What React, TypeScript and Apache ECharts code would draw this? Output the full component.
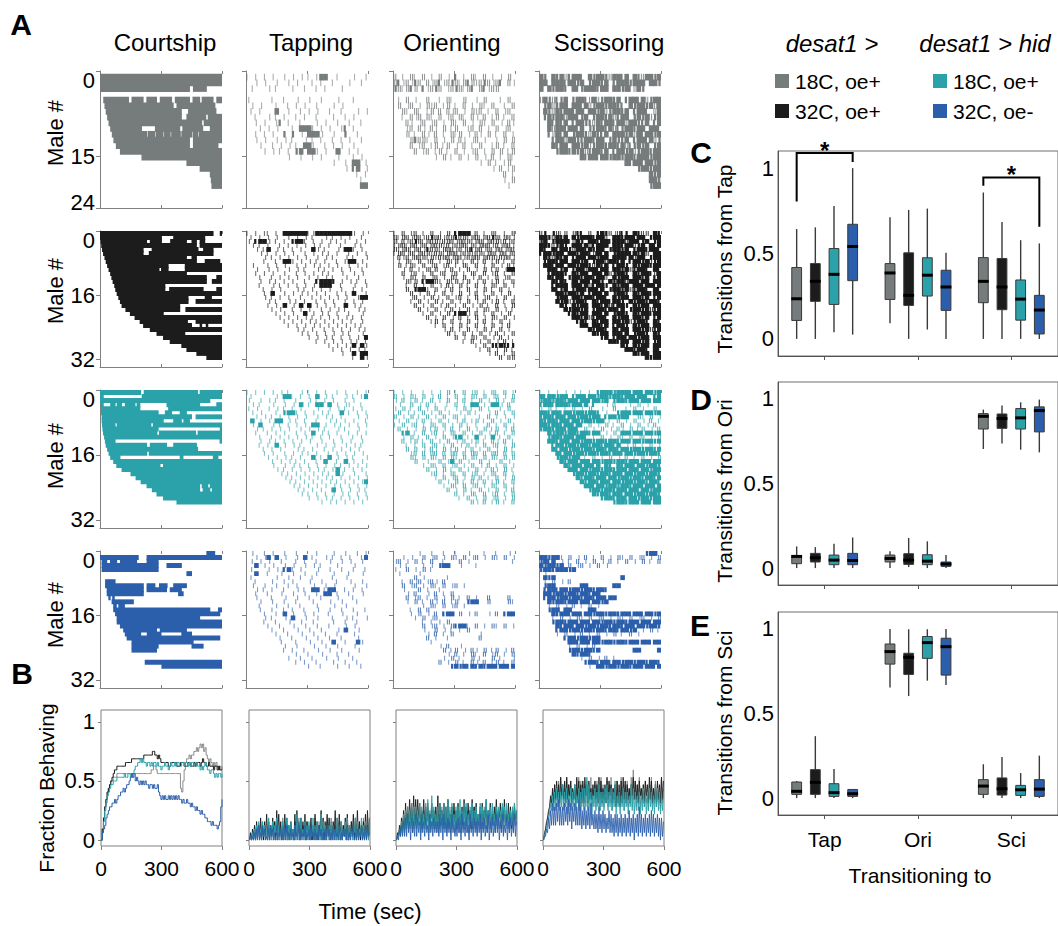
import React, { useEffect, useRef } from "react";
import * as echarts from "echarts";

// ---------------- categories & labels ----------------
const BEHAVIORS = ["Courtship", "Tapping", "Orienting", "Scissoring"];
const GENOTYPE_GROUPS = ["desat1 >", "desat1 > hid"];
const GENOTYPE_LABELS = ["18C, oe+", "32C, oe+", "18C, oe+", "32C, oe-"];
const COLORS = ["#767b7c", "#1c1c1c", "#2ba2aa", "#2b5fab"];
const MALE_TICKS = [[0, 15, 24], [0, 16, 32], [0, 16, 32], [0, 16, 32]];
const MALE_MAX = [24, 34, 34, 34];
const ROW_SHIFT = [0.5, 0, 0, 0];
const FRACTION_TICKS = [0, 0.5, 1];
const TRANSITION_TICKS = [0, 0.5, 1];
const TARGETS = ["Tap", "Ori", "Sci"];
const SOURCES = ["Transitions from Tap", "Transitions from Ori", "Transitions from Sci"];

// ---------------- courtship rasters: [start,end,start,end,...] seconds per male ----------------
const COURT_GRAY = [
  [0, 600], [0, 600], [0, 440, 457, 523], [],
  [16, 140, 155, 212, 228, 278, 294, 352, 368, 440, 455, 490, 500, 556, 572, 600],
  [22, 360, 376, 565], [28, 400, 433, 570], [35, 400, 425, 520, 530, 600], [42, 500, 510, 600],
  [50, 204, 270, 392, 405, 505, 540, 600],
  [58, 230, 235, 270, 275, 310, 315, 345, 350, 395, 400, 450, 455, 480, 485, 600],
  [66, 440, 457, 600], [78, 440, 457, 580], [98, 600], [204, 600], [425, 600], [490, 600],
  [540, 600], [545, 600], [548, 600],
];
const COURT_BLACK = [
  [0, 556, 589, 600], [0, 302, 360, 515], [3, 229, 245, 302, 345, 425, 450, 474, 490, 515],
  [6, 474, 490, 600], [10, 212, 254, 482, 507, 556], [15, 212, 240, 556], [22, 425, 450, 474],
  [28, 474, 515, 589], [35, 335, 417, 600], [42, 290, 300, 335, 417, 600], [50, 425],
  [56, 523, 572, 600], [62, 523, 550, 600], [70, 319], [75, 319, 340, 507, 572, 600], [82, 600],
  [90, 433, 515, 548], [98, 433, 470, 600], [106, 392], [125, 392, 420, 600], [147, 311],
  [170, 600], [195, 430, 470, 600], [212, 450, 490, 500, 520, 530], [245, 600], [278, 417],
  [310, 600], [343, 600], [400, 600], [425, 600], [474, 600], [523, 600],
];
const COURT_TEAL = [
  [0, 200, 215, 480, 490, 600], [0, 16, 205, 600], [0, 540],
  [5, 16, 50, 74, 82, 106, 122, 172, 180, 196, 327, 490, 572, 600], [5, 196, 335, 600],
  [5, 286, 319, 352, 392, 425], [8, 450, 470, 600], [8, 311, 360, 400, 410, 440],
  [10, 74, 82, 250, 260, 600], [12, 286, 589, 600], [15, 280, 290, 470, 480, 600], [20, 600],
  [24, 74, 588, 600], [28, 229, 245, 327, 360, 474], [35, 480], [42, 230, 240, 600],
  [50, 98, 392, 408, 555, 580], [65, 600], [80, 295, 310, 600], [106, 600], [150, 600],
  [175, 600], [200, 600], [229, 490, 500, 530, 540, 600], [255, 490, 505, 540, 550, 600],
  [278, 600], [310, 600], [376, 600],
];
const COURT_BLUE = [
  [523, 564], [0, 188, 229, 600], [8, 33, 49, 82, 98, 180, 229, 286], [8, 286, 327, 400], [8, 286],
  [425, 450], [], [25, 74], [25, 213, 229, 270, 290, 330, 360, 425], [33, 213, 229, 327, 343, 400],
  [33, 213, 384, 409], [41, 50, 60, 70], [57, 164], [65, 80, 90, 120], [65, 540, 580, 600],
  [74, 589], [82, 490], [82, 600], [98, 600], [114, 278, 294, 425], [122, 200, 230, 300, 400, 450],
  [131, 589], [155, 458], [155, 286, 450, 507], [155, 278], [], [], [220, 600], [302, 600],
];

// ---------------- behaviour rasters: 20-s bins, '.'=none 1=thin tick 2=two ticks 3=half bin 4=full ----------------
const GRAY_TAP = [
  "1.1.1|.1..1|.1.1.|1.144|..1..|.1..1", "..1.1|..1..|1.1..|.1.1.|.1...|1..1.", ".1...|1.1..|.1..1|..1.1|...1.|.....",
  ".....|.....|.....|.....|.....|.....", "1....|.1..1|..1..|1..1.|..1..|.1...", ".1.1.|..1..|1.1.1|..1..|.1.1.|.....",
  ".1.1.|..4..|1..1.|1.1..|1..1.|..1.1", "..1..|1.1.1|..1.1|..1..|.1..1|.1...", "..1.1|..13.|1..1.|..1.1|..1..|1..1.",
  "...1.|1.1..|.1.44|41.1.|1..13|.1...", "..1.1|.1..3|.3.1.|4441.|.1..3|..1..", "..1.1|..1.1|.1..1|.1.1.|.1.1.|1..1.",
  "...1.|.1.1.|1.1.4|41..1|.1.1.|.1...", "....1|.1.1.|1.34.|441.1|..41.|1.1..", ".....|.....|1..1.|.1.1.|..1..|.1.1.",
  ".....|.....|.....|.....|.1..1|.44.1", ".....|.....|.....|.....|....1|.34.1", ".....|.....|.....|.....|.....|..1.1",
  ".....|.....|.....|.....|.....|...1.", ".....|.....|.....|.....|.....|...44",
];
const GRAY_ORI = [
  "2.1.2|1.2.1|.2.1.|3.1.2|1.2.1|.1.2.", "23121|32.21|23123|21232|12321|23.21", "32123|2.312|32.12|32123|.2312|2....",
  ".....|.....|.....|.....|.....|.....", ".1.2.|1..2.|.1.21|..2..|1.2..|.1.2.", ".2.12|.1.21|2.12.|1.2.1|.21.2|..1.2",
  "..21.|21.12|.2.21|2.1.2|12.1.|2.12.", "..1.2|12.21|.2.12|.21.2|1.2.1|2.1.2", "...21|.12.1|2.1.2|1.2.1|.21.2|.1.21",
  "...12|.21.2|1.2.1|2..12|.2.1.|2.12.", "...2.|1.21.|2.1.2|12.1.|21.2.|1.2.1", "....2|3221.|2.1.2|.21.1|2.1..|1.2.2",
  "....2|.12.1|2.12.|1.2.1|.2..1|2.1.2", ".....|2.12.|12.1.|2.1.1|2.1.2|.2.12", ".....|.....|1.2.1|.2.1.|2.1.2|.1.21",
  ".....|.....|.....|.....|.1.2.|1.12.", ".....|.....|.....|.....|....1|.2.12", ".....|.....|.....|.....|.....|..2.1",
  ".....|.....|.....|.....|.....|..1.2", ".....|.....|.....|.....|.....|...1.",
];
const GRAY_SCI = [
  "43.43|42344|3.434|43244|34.43|24434", "44.44|43443|4.344|34.34|44344|4.443", "4.434|43.43|34443|44.44|34324|3....",
  ".....|.....|.....|.....|.....|.....", "24323|34.34|43242|34434|.3443|42344", ".3423|44.44|34234|43443|3.434|43424",
  ".4324|34434|4.443|42344|34.34|43.24", ".3434|42443|34.34|43423|44.34|34234", "..434|34.34|43324|34434|42443|34.34",
  "..424|43443|4.334|43423|34434|4.443", "..324|34.34|43243|34.44|43424|34434", "...34|42443|34434|4.343|34.34|43423",
  "...43|44.44|34234|43443|42334|34.34", "....3|44343|42344|34.34|43423|44344", ".....|.....|43443|44344|34434|44344",
  ".....|.....|.....|.....|.4344|34434", ".....|.....|.....|.....|....3|44344", ".....|.....|.....|.....|.....|..434",
  ".....|.....|.....|.....|.....|..443", ".....|.....|.....|.....|.....|..344",
];
const BLACK_TAP = [
  "1.1.1|1.1.4|44444|11444|44444|41.1.", ".1.1.|1.1..|1.1.1|.1..1|.1.1.|1..1.", "1.344|1.1.1|.3441|.1.1.|1.1.1|..1.1",
  ".1.1.|1..1.|1.1.1|.1.1.|1..1.|.1.1.", "..1.1|4.1.1|.1.1.|.41.1|..1.4|41.1.", "...1.|1.1.1|.1..1|.1.1.|1.1..|1.1.1",
  "....1|.1.1.|1.1.1|..1.1|.1..1|.1..1", "....1|..1.4|41.1.|1.1.1|..1.1|44.1.", ".1...|1.1.1|..1.1|.1.1.|1.1..|1.1.1",
  "..1..|1.1..|1.1.1|..1.1|.1.1.|1..1.", "..1.1|.1..1|..1.1|.1.1.|1..1.|.1.1.", "...1.|.1.1.|1.1..|1.1.1|.1..1|..1..",
  "...1.|1.1.1|.1..1|..344|43.1.|1.1.1", "...1.|.1.1.|1.1.1|.1.44|4..1.|.1..1", "....1|.1.1.|..1.1|.1.1.|1..1.|.1.1.",
  "....1|.4..1|.1.1.|1.1.1|..1.1|.4..1", "....1|.1.1.|1..1.|.1.1.|1.1.1|..144", ".....|1.1..|1.1.1|..1.1|.1..1|.1.1.",
  ".....|1.1.4|.1.4.|4.1.1|.1..4|.1.1.", ".....|.1.1.|.1.1.|1..1.|1.1.1|..1.1", ".....|..1.1|.1..4|.1.1.|1.1..|1..1.",
  ".....|...1.|1.1.1|.1.1.|1.1.1|.1.1.", ".....|....1|.1.1.|1.1.1|.1.1.|1..1.", ".....|.....|1.1.1|.1.1.|1.1.1|.1.1.",
  ".....|.....|..1.1|.1..1|.1.1.|1.1.1", ".....|.....|...1.|1.1.1|.1.1.|1..1.", ".....|.....|.....|1.1.1|.1.1.|1.1.4",
  ".....|.....|.....|..1.1|.1.1.|1.1.1", ".....|.....|.....|.....|1.1.1|.4.41", ".....|.....|.....|.....|.1.1.|1.1.1",
  ".....|.....|.....|.....|...1.|.4.44", ".....|.....|.....|.....|.....|.1.41",
];
const BLACK_ORI = [
  "1.2.1|2.1.2|.1.2.|3444.|2.1.2|1.1.2", "21221|22123|22122|32212|21223|21221", "2.212|32122|21222|12221|22122|21212",
  "12212|21212|22121|22212|12221|21221", "21221|22132|21222|12123|22121|22122", "12212|12221|22122|21221|22122|12212",
  ".2121|22212|12221|22122|21222|12221", ".1.21|.2.12|.1.21|2.1.2|1.2.1|2.1.2", ".2.12|1.2.1|2.12.|1.21.|2.1.2|.1.21",
  "..1.2|.1.21|2.1.2|.1.2.|1.2.1|2.144", "..2.1|2.1.2|.12.1|2.1.2|1.2.1|2.1.2", "..1.2|1.2.1|2.1.2|1.2.1|.2.1.|2.12.",
  "...21|2.344|21.21|2.12.|1.2.1|2.1.2", "...1.|2.1.2|.1.21|.2.1.|2.1.2|1.2.1", "...2.|3441.|2.1.2|.1.2.|1.2.1|.2.1.",
  "....2|.1.2.|1.2.1|.2.1.|2.1.2|.1.2.", "....1|2.1.2|.1.2.|12.1.|2.12.|1.2.1", "....1|.2.1.|2.1.2|.1.2.|1.2.1|2.1.2",
  ".....|2.1.2|.1.2.|1.2.1|.2.1.|2.1.2", ".....|.2.1.|2.1.2|.1.2.|1.21.|2.1.1", ".....|..1.2|.1.2.|3441.|2.1.2|.1.2.",
  ".....|...2.|1.2.1|.2.1.|2.1.2|1.2.1", ".....|....1|2.1.2|.1.2.|1.2.1|.2.1.", ".....|.....|1.2.1|.2.1.|2.1.2|.1.2.",
  ".....|.....|..1.2|.1.2.|1.2.1|.2.1.", ".....|.....|...2.|1.2.1|.2.1.|2.1.2", ".....|.....|.....|2.1.2|1.2.1|.2.1.",
  ".....|.....|.....|..1.2|.1.2.|1.2.1", ".....|.....|.....|.....|1.2.3|34333", ".....|.....|.....|.....|.1.2.|1.2.1",
  ".....|.....|.....|.....|...1.|2.1.2", ".....|.....|.....|.....|.....|.2.22",
];
const BLACK_SCI = [
  "23.32|12.23|3.2.3|43212|33.43|22.43", "44324|34.43|44434|42.44|34434|4.344", "34.34|44324|3.443|44344|42443|34.34",
  "44323|43.44|34234|44.44|34423|4.434", "43.43|44324|43434|4.344|34.34|43443", "34434|4.443|44324|34.34|44343|42.44",
  ".4324|34.34|43443|44.44|43424|4.344", ".3443|44.44|34.34|42443|4.344|34234", ".4434|4.443|44324|34.34|43.43|44344",
  "..443|34.34|42443|44.44|34234|43.43", "..344|43.43|44.44|34234|43.43|44324", "..434|4.344|34434|42.43|44.44|34.34",
  "...43|43.43|44344|3.434|42443|44.44", "...34|44.44|34234|43.43|44.44|34434", "...43|34.34|43443|4.344|34234|43.43",
  "....4|43443|4.344|34.34|43.43|44344", "....3|44.44|34434|43.43|44.44|34.34", "....4|34234|43.43|44344|3.434|43443",
  ".....|43.43|44.44|34234|43.43|44.44", ".....|.4344|34.34|43443|4.344|34234", ".....|..343|44.44|34.34|43.43|44344",
  ".....|...44|34234|43.43|44.44|34.34", ".....|....3|43.43|44.44|34234|43.43", ".....|.....|44.44|34.34|43.43|44.44",
  ".....|.....|..434|43.43|44.44|34234", ".....|.....|...43|44.44|34.34|43.43", ".....|.....|.....|34.34|43443|44.44",
  ".....|.....|.....|..443|44.44|34.34", ".....|.....|.....|.....|43.43|44.44", ".....|.....|.....|.....|.4434|43.43",
  ".....|.....|.....|.....|...43|44.44", ".....|.....|.....|.....|.....|.4344",
];
const TEAL_TAP = [
  "1.1.1|.1.1.|1..1.|1.1.1|..1.1|..1.1", ".1...|..1.4|41.1.|1.4.1|.1..1|.1.14", "1..1.|1.1.1|..1..|1.1.1|.1..1|.1...",
  ".1.1.|.1..1|.1.4.|1.44.|4.1.1|1..1.", "1.1..|1.1.1|.1.1.|..1..|1.1.1|.1.1.", ".1.1.|..1.3|441.1|.1.1.|1..4.|1.1.1",
  "..1.1|.1.1.|1.1.1|..1.1|.1.1.|..1.1", ".4.1.|1.44.|1.1.1|..1..|1.1.1|.1..1", ".1.4.|.1.1.|1.1.1|.44.1|.1.1.|1.1.1",
  "..1.1|.1.1.|1..1.|1.1.1|..1.1|..1..", "..1..|1.1.1|..1.1|.4.1.|1.1..|1.1.1", "...1.|.1.1.|1.1.1|.1.1.|1..1.|.1.1.",
  "...1.|1.1.1|.1.1.|1..1.|.1.1.|1..1.", "...1.|1.4.1|.1.1.|..1.1|.1..1|.1.1.", "....1|.1.1.|..1.1|.1..1|.1.1.|1.1..",
  "....1|.1..1|.1.1.|1.1..|1.1.1|.1.1.", ".....|1.1.1|.1.1.|.4.1.|4.1.1|.1..1", ".....|.1.1.|1.1.1|..1.4|..1.4|.1.1.",
  ".....|.1..1|.1.1.|1.1.1|.1.1.|1.1.1", ".....|..1.1|.1.1.|1.1.1|.14.1|.1.1.", ".....|...1.|1.1.1|.1.1.|1.41.|.1..1",
  ".....|....1|.1.1.|1.1.1|.1.1.|1.1.1", ".....|.....|1.1.1|.1.1.|1.1.1|.1.14", ".....|.....|.1.1.|1.1.1|.1.1.|1.1.1",
  ".....|.....|..1.1|.1.1.|.4.1.|1.1.1", ".....|.....|...1.|1.1.1|.1.1.|1.1.1", ".....|.....|.....|1.1.1|.1.1.|1.1.1",
  ".....|.....|.....|...1.|1.1.1|.1.1.",
];
const TEAL_ORI = [
  "1.1.1|..1.1|.1.2.|1.2.1|2.1.2|1.2.1", "2.1.2|1.2.1|.2.1.|2.1.2|1.2.1|2.1.2", "1.2.1|2.1.2|.1.2.|1.2.1|.2.1.|2.1.2",
  ".1..2|.1.2.|1..1.|2.1.4|4.1.4|41.2.", "1.2.1|.2.1.|2.1..|1.2.1|.2.1.|.1.2.", ".2.1.|1.2.1|.2.1.|.1.2.|1..1.|2.1.2",
  "2.1.2|.1.2.|1.2.1|2.1..|.1.2.|1.1.1", ".1.2.|1.2.1|.2.1.|1.2.1|2.1.2|.1.2.", "1.2.1|2.1.2|1.2.1|.2.1.|1..2.|1.2.1",
  ".2.1.|1.2.1|2.1.2|.1.2.|1.2.1|2.1.2", "..34.|1.2.1|2.1.2|1.2.1|.2.1.|2.1.2", "..1.2|.1.2.|1.2.1|34.1.|4.1.4|.1.2.",
  "..2.1|2.1.2|.1.2.|1.2.1|2.1.2|1.2.1", "...1.|1.2.1|2.1.2|.1.2.|1.2.1|2.1.2", "...2.|2.1.2|1.2.1|2.1.2|.1.2.|1.2.1",
  "....1|2.2.2|2.2.2|2.2.2|2.2.2|2.2.2", "....2|1.2.2|1.2.2|1.2.2|1.2.2|1.2.2", ".....|2..1.|.2.14|.2.1.|.2.1.|.2.1.",
  ".....|..1.2|1.2.1|2.1.2|.1.2.|1.2.1", ".....|...2.|1.2.1|.2.1.|2.1.2|1.2.1", ".....|....1|2.1.2|1.2.1|2.1.2|1.2.1",
  ".....|.....|1.2.1|2.1.2|.2.1.|2.1.2", ".....|.....|.2.1.|2.1.2|1.2.1|2.1.2", ".....|.....|..1.2|1.2.1|2.1.2|1.2.1",
  ".....|.....|...2.|1.2.1|.2.1.|2.1.2", ".....|.....|.....|2.1.2|1.2.1|2.1.2", ".....|.....|.....|.1.2.|1.2.1|2.1.2",
  ".....|.....|.....|....2|1.2.1|2.1.2",
];
const TEAL_SCI = [
  "1.1.1|.1.1.|1.1.3|44434|44344|34434", "43443|44.34|43443|44344|34434|43.34", "34434|43443|44344|34.34|43443|44344",
  "34434|44344|34.3.|.1.2.|..1.2|.1...", "1.2.1|.1.2.|1.2..|1..2.|.1.2.|1..2.", "44344|34434|43443|.1..3|44344|34434",
  "34434|43443|44344|.3443|44..2|1.2.1", "43443|44344|34434|4.1.2|.1.2.|1.2.1", "44344|34434|3.2.1|.2.1.|2.1.2|.1.2.",
  "34434|43443|.2.1.|2.1.2|1.2.1|2.1.2", "..434|43443|44344|.1.2.|44344|34434", "..344|34434|43.1.|2.1.2|1.2.1|2.1.2",
  "..443|44344|34434|43443|44344|34434", "...34|43443|44344|34434|.1.2.|1.2.1", "...43|44344|34434|43443|44344|34434",
  "....4|34434|43443|44344|34434|43443", "....3|44344|.1.2.|1.2.1|.2.1.|2.1.2", ".....|43443|44344|34434|43443|44344",
  ".....|.4344|34434|.43.4|34434|43443", ".....|..443|44344|34434|43443|44344", ".....|...34|43443|44344|34434|43443",
  ".....|....4|34434|43443|44344|34434", ".....|.....|43443|44344|34434|43443", ".....|.....|.4434|43443|44344|34434",
  ".....|.....|..344|34434|43443|44344", ".....|.....|...43|44344|34434|43443", ".....|.....|.....|34434|43443|44344",
  ".....|.....|.....|...34|43443|44344",
];
const BLUE_TAP = [
  ".1..1|.1..1|..1..|..1..|.1..1|..1.1", "..1.1|4.4.1|..1.4|.1..1|.1.1.|1..14", ".1.1.|1..1.|..1.1|..1..|1..1.|1..1.",
  "..4.1|.1..1|.1..1|.1.1.|..1..|.1...", ".1...|1.1.3|41.1.|..1..|1..1.|.1..1", "..4..|1..1.|.1..1|..1..|.1...|1..1.",
  ".1...|..1..|1..1.|.1...|.1..1|.....", "..1..|.1..1|.1...|1..1.|..1..|1..1.", ".1..1|..1..|1.1..|.1..1|.1...|.1..1",
  "..1.1|.1..1|..1.1|.44.1|44..1|.1.1.", "..1..|1..1.|.1..1|..1.4|4.1..|1..1.", "..1..|.1..1|..1..|1..1.|..1..|.1...",
  "...1.|.1..1|..1..|.1...|1..1.|..1..", "...1.|..1..|1..1.|..1..|.1..1|.....", "...1.|.1..1|.1..1|..1..|1..1.|.1..1",
  "....1|..1.4|.1..1|.1...|1..1.|..1..", "....1|.1..1|.4..1|..1..|.1..1|.1..1", "....1|..1..|1..1.|.1...|.1..1|..1..",
  ".....|1..1.|.1..1|..1..|1...1|.1...", ".....|.1..1|..1..|1..1.|..1.4|..1..", ".....|..1..|1..1.|.1..1|..1..|.1...",
  ".....|...1.|.1..1|..1..|1..1.|..1..", ".....|...1.|..1..|1..1.|.4..1|..41.", ".....|....1|..1..|.1..1|..1..|.1...",
  ".....|....1|.1..1|..1..|1..1.|..1..", ".....|.....|..1..|1..1.|..1..|1....", ".....|.....|1..1.|.1..1|..1..|.1...",
  ".....|.....|..1.1|..1..|.1..1|..1..", ".....|.....|.....|1..1.|..1..|1..1.",
];
const BLUE_ORI = [
  ".....|.1..1|..1..|1..1.|..1..|1..1.", "..1.1|..2.1|2.1.2|1.2.1|2.1.2|1.2.1", "12.1.|2.1.2|..1..|.2.1.|.....|....1",
  ".1.1.|..1.1|.344.|.1...|1....|.....", "1..2.|1.2.1|.....|.....|.....|.....", ".1...|.1...|.....|.....|.....|.....",
  ".....|2.1..|...1.|.....|.....|.....", "..1.2|12.12|1.2..|.....|.....|.....", "..2.1|2.1.2|1.2.1|2.1..|.....|.....",
  "..1..|.2.1.|.1...|.....|.....|.....", "...1.|2..1.|2.1.2|.....|.....|.....", "...2.|12.1.|2.1.2|.1.2.|1..2.|...2.",
  "...1.|2.1.2|1.2.1|2..34|4..2.|...21", ".....|..1.2|1.2.1|2.1..|.....|.....", "....1|.2.2.|.....|.....|.....|.....",
  "....1|.2.1.|2.344|.2.1.|2..1.|2.344", ".....|1.2.1|2....|.....|.....|.....", ".....|..1.1|.1.2.|.....|.....|.....",
  ".....|..2.1|2.1.2|3441.|2.1.2|1.2.1", ".....|..1..|2.1.1|.1.2.|.....|.....", ".....|...1.|2.1.2|.....|.1...|.....",
  ".....|...2.|1..1.|.....|.2...|.....", ".....|....1|.....|.....|.....|.....", ".....|.....|.1.2.|.1...|.....|.....",
  ".....|.....|..2.1|2.1.2|1.2.1|2.1.2", ".....|.....|...1.|2.1.2|1.2.1|2.1.2", ".....|.....|..1.2|.1..2|.1..2|.1..1",
  ".....|.....|.2.1.|2.1.2|1.2.1|2.1.2", ".....|.....|....3|43434|34344|34434",
];
const BLUE_SCI = [
  ".....|.....|.....|.....|.....|.344.", "44344|1.2.1|.2.1.|2.1.2|1.2.1|2.1.2", "3434.|1.1.2|.1.2.|1.2.1|.2.1.|2.1.2",
  "43443|4.2.1|2.1.2|.1...|.....|.....", "34434|4434.|.....|.....|.....|.....", ".1...|.....|.....|.....|.....|.....",
  ".434.|.....|.....|.....|4....|.....", ".1.2.|1.2..|.....|.....|.....|.....", ".344.|.....|44...|...44|.....|.....",
  ".3443|44344|34434|43...|.....|.....", ".4434|43443|44344|.....|.....|.....", ".3443|44344|34434|4344.|.....|.....",
  "..434|43443|44344|34...|.....|.....", "..1.2|.1.2.|1.2.1|.....|.....|.....", "..344|.44..|..44.|.....|.....|.....",
  "...43|44344|34434|43443|44344|34434", "...1.|2.1.2|1.2.1|2.1.2|1.2.1|2.1.2", "...34|43443|44344|34434|43443|44344",
  "....4|34434|43443|44344|34434|43443", "....3|44344|34434|43443|4434.|1.2.1", "....1|.2.1.|2.1.2|.1.2.|1.2.1|.....",
  ".....|.3443|44344|.....|.....|.....", ".....|..443|44344|34434|43443|44344", ".....|..1.2|.1.2.|.....|.....|.....",
  ".....|..344|34434|.....|...44|....4", ".....|...43|443..|.....|.....|.....", ".....|.....|1.2.1|.2.1.|.....|.....",
  ".....|.....|.3443|44344|34434|43443", ".....|.....|..1.4|43443|44344|34434",
];

// ---------------- fraction behaving ----------------
// courtship: count of 32 males (base-36), evenly spaced samples over 0-600 s
const FRAC_COURTSHIP = [
  "0369bdefgg|hhhiiiiiii|iiiiiiiiii|iiiiiiiiii|ijjkkjiiii|iiiiiiiiii|iiiiiedgjl|mmnmnnoopo|pqpqopnmlm|lklklkjkjk",
  "0369bdefgh|ijjkkkkkkk|lllllmmmmm|mmmmmnnnnn|nnoonnmnml|lllllkklll|llkkklllkk|kllkkklkll|lklmllkklk|kkjkkjkjjj",
  "0258acdeff|ggghhhhhhi|hhiihhijkk|llmlmllkll|klkllklkkj|kklkkjklkk|lkllkkllkl|lklkllkklk|kjkjklkjji|jjihihiihi",
  "023467899a|ababccdded|effghihigh|gfgfgfgffe|ffefeefdcb|cbcbbcbcbc|bcbcbbabaa|baa9a99898|8787766555|454443459b",
];
// noisy behaviours: per 10-s window, lowest and highest count of 32 males (base-36)
const FRAC_TAPPING_LOW = [
  "0000010010|1001000200|0100101001|0010100100|1001001100|0100100010",
  "0010121011|0120210120|1201201102|2011021012|0120120110|1201102101",
  "0000100100|1002001010|0100201001|0100100201|0010100100|1020010010",
  "0000000100|0100010001|0001000100|0100010001|0001000100|0100010001",
];
const FRAC_TAPPING_HIGH = [
  "1224353425|3452436342|4253624352|4362534253|6243524362|5342536243",
  "2345464575|4658754764|5378465754|6475486576|4586754674|5768545786",
  "1234535436|3546435364|5347463545|3645375434|5436453564|3465364536",
  "1123424313|4324232442|3242532423|4232432343|2432423342|3423242432",
];
const FRAC_ORIENTING_LOW = [
  "0112233323|3423432343|2343343234|3243423433|3423343242|3342433424",
  "0123344534|5635454645|4364534545|3544645354|4534635445|4635454354",
  "0112233424|3424342433|4243424342|3424342434|2434324342|4342432434",
  "0011112021|1202120212|2120212021|1202120212|1202120212|2021202121",
];
const FRAC_ORIENTING_HIGH = [
  "1356787968|7968797867|8697869787|7869788697|6879786979|8697878697",
  "2468a9bacb|ba8b9a7a89|ca8a9b79a8|a79b9a8b9a|79a8b8a79b|8a9b7a98a8",
  "1357898a99|8a97ab8c97|9a8a9b8a79|9b8aa79a89|7a98b89a79|98a9a789a8",
  "1345675657|6575647565|5767565745|6575647565|5756475657|6574656575",
];
const FRAC_SCISSORING_LOW = [
  "0258989a9b|9a8a9b9a8a|9a8b9a9a8a|9b9a8a9a9b|8a9a9b8a9a|9a8b9a9a8a",
  "0369aabbac|babcabab9a|acabbcbaba|babcab9a9a|babacbbacb|acabab9bab",
  "0247888989|8979898a89|8989798989|8a89897979|8979879878|9789879878",
  "0123444544|4545354443|4343433232|3232212121|2121202121|2121212101",
];
const FRAC_SCISSORING_HIGH = [
  "147bdfeghf|ehfgdfehgf|egfhdfgehf|dgfhefgdhe|fgehjgfhef|gdfhegfdhe",
  "258cefgfhf|ghfgefhgfg|hfgefgfhge|fhgfefgfgh|gfefhgfgef|gfhgefgfhg",
  "136acdeddf|decedfcede|ehfdcedfdd|efdedgcdce|ddcfedcdce|cdedcfedcd",
  "1368a9ab99|a9ba9a9b98|989a787978|7687677676|7686767976|7678767665",
];

// ---------------- transition boxplots: [target][genotype] = [min, q1, median, q3, max] ----------------
const FROM_TAP = [
  [[0, 0.108, 0.235, 0.418, 0.643], [0, 0.22, 0.337, 0.441, 0.653], [0.039, 0.202, 0.378, 0.529, 0.778], [0.025, 0.341, 0.541, 0.671, 1.0]],
  [[0.092, 0.231, 0.386, 0.441, 0.712], [0, 0.196, 0.255, 0.504, 0.755], [0.055, 0.251, 0.373, 0.475, 0.763], [0, 0.167, 0.304, 0.402, 0.504]],
  [[0, 0.212, 0.337, 0.476, 0.857], [0, 0.171, 0.304, 0.471, 0.684], [0, 0.11, 0.233, 0.345, 0.578], [0, 0.029, 0.169, 0.255, 0.559]],
];
const FROM_ORI = [
  [[0, 0.026, 0.069, 0.073, 0.128], [0, 0.036, 0.061, 0.087, 0.124], [0, 0.02, 0.047, 0.077, 0.144], [0, 0.02, 0.045, 0.087, 0.181]],
  [[0, 0.036, 0.057, 0.077, 0.099], [0.006, 0.022, 0.047, 0.085, 0.178], [0, 0.02, 0.041, 0.079, 0.158], [0, 0.01, 0.024, 0.036, 0.077]],
  [[0.704, 0.822, 0.897, 0.913, 0.937], [0.736, 0.826, 0.884, 0.911, 0.961], [0.7, 0.822, 0.888, 0.943, 0.98], [0.684, 0.805, 0.931, 0.953, 0.996]],
];
const FROM_SCI = [
  [[0, 0.022, 0.04, 0.095, 0.101], [0, 0.022, 0.093, 0.168, 0.366], [0, 0.01, 0.032, 0.085, 0.172], [0, 0.01, 0.026, 0.051, 0.051]],
  [[0.654, 0.792, 0.866, 0.911, 1.0], [0.603, 0.731, 0.832, 0.856, 0.998], [0.694, 0.826, 0.919, 0.955, 0.998], [0.668, 0.727, 0.895, 0.945, 1.0]],
  [[0, 0.022, 0.071, 0.109, 0.2], [0, 0.018, 0.055, 0.119, 0.243], [0, 0.016, 0.049, 0.075, 0.148], [0, 0.01, 0.053, 0.109, 0.251]],
];
// significance brackets in panel C: [target, fromGenotype, toGenotype, barY, leftFootY, rightFootY]
const SIG_BRACKETS = [
  [0, 0, 3, 1.088, 0.804, 1.035],
  [2, 0, 3, 0.945, 0.896, 0.657],
];

// ---------------- layout / style ----------------
const FONT = "'Liberation Sans', Arial, Helvetica, sans-serif";
const AX = "#808080";
const COL_LEFT = [100, 246, 393, 539];
const COL_W = 122;
const B_LEFT = [101, 249, 396, 543];
const B_W = 121;
const TITLE_X = [165, 311, 452, 609];
const ROW_TOP = [71, 231, 390, 551];
const ROW_H = [137, 136, 138, 137];
const MALE_NAME_Y = [133, 291, 456, 615];
const B_TOP = 710;
const B_H = 136;
const BOX_LEFT = 778;
const BOX_W = 281;
const BOX_TOP = [151, 382, 612];
const BOX_H = [205, 203, 203];
const BIN_SEC = 20;

const strip = (s: string) => s.replace(/\|/g, "");

function courtItems(rows: number[][], shift: number) {
  const out: number[][] = [];
  rows.forEach((iv, r) => {
    for (let k = 0; k + 1 < iv.length; k += 2) out.push([iv[k], iv[k + 1], r + shift, 4]);
  });
  return out;
}
function tickItems(rows: string[], shift: number) {
  const out: number[][] = [];
  rows.forEach((raw, r) => {
    const s = strip(raw);
    for (let i = 0; i < s.length; i++) {
      const c = s[i];
      if (c === ".") continue;
      out.push([i * BIN_SEC, (i + 1) * BIN_SEC, r + shift, Number(c)]);
    }
  });
  return out;
}
function stepItems(raw: string) {
  const s = strip(raw);
  const n = s.length;
  return s.split("").map((c, i) => [(i * 600) / (n - 1), parseInt(c, 36) / 32]);
}
// each window contributes its low and its high value, in that order
function bandItems(lowRaw: string, highRaw: string) {
  const lo = strip(lowRaw);
  const hi = strip(highRaw);
  const n = lo.length;
  const win = 600 / n;
  const out: number[][] = [];
  for (let i = 0; i < n; i++) {
    out.push([i * win + win * 0.25, parseInt(lo[i], 36) / 32]);
    out.push([i * win + win * 0.75, parseInt(hi[i], 36) / 32]);
  }
  return out;
}

const rasterRender = (color: string) => (_p: any, api: any) => {
  const row = api.value(2);
  const t0 = api.value(0);
  const a = api.coord([t0, row]);
  const b = api.coord([api.value(1), row + 1]);
  const lv = api.value(3);
  const slot = ((Math.floor(row) * 7 + Math.round(t0 / BIN_SEC) * 3) % 5) / 5;
  const x0 = a[0];
  const w = b[0] - a[0];
  const y = Math.min(a[1], b[1]);
  const h = Math.abs(b[1] - a[1]) + 0.9;
  if (lv >= 4) return { type: "rect", shape: { x: x0, y, width: w + 0.5, height: h }, style: { fill: color } };
  if (lv === 3) return { type: "rect", shape: { x: x0 + w * 0.45 * slot, y, width: w * 0.55, height: h }, style: { fill: color } };
  if (lv === 2)
    return {
      type: "group",
      children: [
        { type: "rect", shape: { x: x0 + w * (0.05 + 0.3 * slot), y, width: 1.1, height: h }, style: { fill: color, opacity: 0.78 } },
        { type: "rect", shape: { x: x0 + w * (0.55 + 0.3 * slot), y, width: 1.1, height: h }, style: { fill: color, opacity: 0.78 } },
      ],
    };
  return { type: "rect", shape: { x: x0 + w * (0.1 + 0.75 * slot), y, width: 1.1, height: h }, style: { fill: color, opacity: 0.62 } };
};

const BOX_SPREAD = 0.2;
const BOX_FRAC = 0.105;
const boxRender = (_p: any, api: any) => {
  const cat = api.value(0);
  const g = api.value(1);
  const band = api.size([1, 0])[0];
  const cx = api.coord([cat, 0])[0] + (g - 1.5) * band * BOX_SPREAD;
  const yy = (k: number) => api.coord([cat, api.value(k)])[1];
  const half = (band * BOX_FRAC) / 2;
  const yMin = yy(2), yQ1 = yy(3), yMed = yy(4), yQ3 = yy(5), yMax = yy(6);
  return {
    type: "group",
    children: [
      { type: "line", shape: { x1: cx, y1: yMax, x2: cx, y2: yMin }, style: { stroke: "#3a3a3a", lineWidth: 1.4 } },
      { type: "rect", shape: { x: cx - half, y: yQ3, width: half * 2, height: Math.max(yQ1 - yQ3, 1) }, style: { fill: COLORS[g], stroke: "#3a3a3a", lineWidth: 1 } },
      { type: "line", shape: { x1: cx - half - 0.5, y1: yMed, x2: cx + half + 0.5, y2: yMed }, style: { stroke: "#000", lineWidth: 3 } },
    ],
  };
};
const bracketRender = (_p: any, api: any) => {
  const cat = api.value(0);
  const band = api.size([1, 0])[0];
  const base = api.coord([cat, 0])[0];
  const xL = base + (api.value(1) - 1.5) * band * BOX_SPREAD;
  const xR = base + (api.value(2) - 1.5) * band * BOX_SPREAD;
  const yT = api.coord([cat, api.value(3)])[1];
  const yL = api.coord([cat, api.value(4)])[1];
  const yR = api.coord([cat, api.value(5)])[1];
  return {
    type: "group",
    children: [
      { type: "polyline", shape: { points: [[xL, yL], [xL, yT], [xR, yT], [xR, yR]] }, style: { stroke: "#000", lineWidth: 2, fill: "none" } },
      { type: "text", x: (xL + xR) / 2, y: yT + 9, style: { text: "*", fontSize: 24, fontWeight: "bold", fontFamily: FONT, fill: "#000", align: "center", verticalAlign: "bottom" } },
    ],
  };
};

function buildOption() {
  const grids: any[] = [];
  const xAxes: any[] = [];
  const yAxes: any[] = [];
  const series: any[] = [];
  const courtRows = [COURT_GRAY, COURT_BLACK, COURT_TEAL, COURT_BLUE];
  const tickRows = [
    [GRAY_TAP, GRAY_ORI, GRAY_SCI],
    [BLACK_TAP, BLACK_ORI, BLACK_SCI],
    [TEAL_TAP, TEAL_ORI, TEAL_SCI],
    [BLUE_TAP, BLUE_ORI, BLUE_SCI],
  ];
  const lbl = { fontSize: 22, color: "#000", fontFamily: FONT };

  // --- panel A rasters ---
  for (let g = 0; g < 4; g++) {
    for (let b = 0; b < 4; b++) {
      const gi = grids.length;
      grids.push({ left: COL_LEFT[b], top: ROW_TOP[g], width: COL_W, height: ROW_H[g] });
      xAxes.push({
        gridIndex: gi, type: "value", min: 0, max: 600, interval: 300,
        axisLine: { show: true, onZero: false, lineStyle: { color: AX } },
        axisTick: { show: true, inside: true, length: 3, lineStyle: { color: AX } },
        axisLabel: { show: false }, splitLine: { show: false },
      });
      const xi = xAxes.length - 1;
      xAxes.push({
        gridIndex: gi, type: "value", position: "top", min: 0, max: 600, interval: 300,
        axisLine: { show: false, onZero: false },
        axisTick: { show: true, inside: true, length: 3, lineStyle: { color: AX } },
        axisLabel: { show: false }, splitLine: { show: false },
      });
      const last = MALE_TICKS[g][2];
      yAxes.push({
        gridIndex: gi, type: "value", inverse: true, min: 0, max: MALE_MAX[g],
        axisLine: { show: true, onZero: false, lineStyle: { color: AX } },
        axisTick: { show: true, length: 4, customValues: MALE_TICKS[g], lineStyle: { color: AX } },
        axisLabel: {
          show: b === 0, customValues: MALE_TICKS[g], margin: 5,
          formatter: (v: number) => (v === 0 ? `{t|${v}}` : g === 0 && v === last ? `{b|${v}}` : `{n|${v}}`),
          rich: {
            t: { ...lbl, padding: [18, 0, 0, 0] },
            b: { ...lbl, padding: [0, 0, 12, 0] },
            n: { ...lbl },
          },
        },
        splitLine: { show: false },
      });
      const yi = yAxes.length - 1;
      const data = b === 0 ? courtItems(courtRows[g], ROW_SHIFT[g]) : tickItems(tickRows[g][b - 1], ROW_SHIFT[g]);
      series.push({
        type: "custom", xAxisIndex: xi, yAxisIndex: yi, silent: true, clip: true,
        encode: { x: [0, 1], y: 2 }, data, renderItem: rasterRender(COLORS[g]),
      });
    }
  }

  // --- panel B fraction behaving ---
  const bandSets = [
    null,
    [FRAC_TAPPING_LOW, FRAC_TAPPING_HIGH],
    [FRAC_ORIENTING_LOW, FRAC_ORIENTING_HIGH],
    [FRAC_SCISSORING_LOW, FRAC_SCISSORING_HIGH],
  ];
  for (let b = 0; b < 4; b++) {
    const gi = grids.length;
    grids.push({ left: B_LEFT[b], top: B_TOP, width: B_W, height: B_H, show: true, borderColor: AX, borderWidth: 1, backgroundColor: "transparent" });
    xAxes.push({
      gridIndex: gi, type: "value", min: 0, max: 600, interval: 300,
      axisLine: { show: false, onZero: false }, axisTick: { show: true, length: 4, lineStyle: { color: AX } },
      axisLabel: { show: true, fontSize: 21, color: "#000", fontFamily: FONT, margin: 12 }, splitLine: { show: false },
    });
    yAxes.push({
      gridIndex: gi, type: "value", min: -0.05, max: 1.1,
      axisLine: { show: false, onZero: false },
      axisTick: { show: true, length: 3, customValues: FRACTION_TICKS, lineStyle: { color: AX } },
      axisLabel: { show: b === 0, customValues: FRACTION_TICKS, fontSize: 22, color: "#000", fontFamily: FONT, margin: 6 },
      splitLine: { show: false },
    });
    const xi = xAxes.length - 1;
    const yi = yAxes.length - 1;
    for (let g = 0; g < 4; g++) {
      const set = bandSets[b];
      const data = set ? bandItems(set[0][g], set[1][g]) : stepItems(FRAC_COURTSHIP[g]);
      series.push({
        type: "line", xAxisIndex: xi, yAxisIndex: yi, data, showSymbol: false, symbol: "none",
        step: set ? false : "end", silent: true, clip: true,
        lineStyle: { color: COLORS[g], width: set ? 0.9 : 1, opacity: g === 0 ? 0.85 : 1 },
      });
    }
  }

  // --- panels C, D, E transitions ---
  const boxSets = [FROM_TAP, FROM_ORI, FROM_SCI];
  let cIndex = { x: 0, y: 0 };
  for (let p = 0; p < 3; p++) {
    const gi = grids.length;
    grids.push({ left: BOX_LEFT, top: BOX_TOP[p], width: BOX_W, height: BOX_H[p], show: true, borderColor: "#6e6e6e", borderWidth: 1, backgroundColor: "transparent" });
    xAxes.push({
      gridIndex: gi, type: "category", data: TARGETS,
      axisLine: { show: true, onZero: false, lineStyle: { color: "#555" } },
      axisTick: { show: true, alignWithLabel: true, length: 4, lineStyle: { color: "#555" } },
      axisLabel: { show: p === 2, fontSize: 21, color: "#000", fontFamily: FONT, margin: 14 },
      splitLine: { show: false },
    });
    yAxes.push({
      gridIndex: gi, type: "value", min: -0.1, max: 1.1,
      axisLine: { show: true, onZero: false, lineStyle: { color: "#555" } },
      axisTick: { show: false },
      axisLabel: { show: true, customValues: TRANSITION_TICKS, fontSize: 22, color: "#000", fontFamily: FONT, margin: 4 },
      splitLine: { show: false },
    });
    const xi = xAxes.length - 1;
    const yi = yAxes.length - 1;
    if (p === 0) cIndex = { x: xi, y: yi };
    const data: number[][] = [];
    boxSets[p].forEach((cat, c) => cat.forEach((v, g) => data.push([c, g, ...v])));
    series.push({
      type: "custom", xAxisIndex: xi, yAxisIndex: yi, silent: true,
      encode: { x: 0, y: [2, 3, 4, 5, 6] }, data, renderItem: boxRender,
    });
  }
  series.push({
    type: "custom", xAxisIndex: cIndex.x, yAxisIndex: cIndex.y, silent: true, clip: false,
    encode: { x: 0, y: [3, 4, 5] }, data: SIG_BRACKETS, renderItem: bracketRender, z: 5,
  });

  // --- texts ---
  const txt = (text: string, x: number, y: number, size: number, extra: any = {}, rot = 0) => ({
    type: "text", x, y, rotation: rot, silent: true,
    style: { text, fontSize: size, fontFamily: FONT, fill: "#000", align: "center", verticalAlign: "middle", ...extra },
  });
  const graphic: any[] = [];
  BEHAVIORS.forEach((t, b) => graphic.push(txt(t, TITLE_X[b], 42, 24)));
  MALE_NAME_Y.forEach((y) => graphic.push(txt("Male #", 55, y, 22, {}, Math.PI / 2)));
  graphic.push(txt("A", 21, 24, 30, { fontWeight: "bold" }));
  graphic.push(txt("B", 22, 673, 30, { fontWeight: "bold" }));
  graphic.push(txt("C", 701, 152, 30, { fontWeight: "bold" }));
  graphic.push(txt("D", 701, 399, 30, { fontWeight: "bold" }));
  graphic.push(txt("E", 700, 625, 30, { fontWeight: "bold" }));
  graphic.push(txt("Fraction Behaving", 46, 788, 21, {}, Math.PI / 2));
  graphic.push(txt("Time (sec)", 370, 911, 22));
  graphic.push(txt("Transitioning to", 920, 875, 21));
  const nameY = [259, 491, 723];
  SOURCES.forEach((s, p) => graphic.push(txt(s, 724, nameY[p], 21, {}, Math.PI / 2)));
  // legend
  const LEG_X = [775, 933];
  const LEG_Y = [74, 104];
  const HEAD_X = [832, 985];
  GENOTYPE_GROUPS.forEach((h, k) => graphic.push(txt(h, HEAD_X[k], 43, 24, { fontStyle: "italic" })));
  GENOTYPE_LABELS.forEach((l, g) => {
    const col = g < 2 ? 0 : 1;
    const row = g % 2;
    graphic.push({ type: "rect", silent: true, shape: { x: LEG_X[col], y: LEG_Y[row], width: 14, height: 14 }, style: { fill: COLORS[g] } });
    graphic.push(txt(l, LEG_X[col] + 20, LEG_Y[row] + 7, 21, { align: "left" }));
  });

  return {
    animation: false,
    backgroundColor: "#ffffff",
    textStyle: { fontFamily: FONT },
    grid: grids,
    xAxis: xAxes,
    yAxis: yAxes,
    series,
    graphic,
  };
}

export default function App() {
  const ref = useRef<HTMLDivElement>(null);
  useEffect(() => {
    if (!ref.current) return;
    const chart = echarts.init(ref.current, null, { renderer: "svg" });
    chart.setOption(buildOption() as any);
    return () => chart.dispose();
  }, []);
  return (
    <div
      ref={ref}
      style={{ position: "fixed", left: 0, top: 0, width: 1058, height: 926, background: "#fff" }}
    />
  );
}
